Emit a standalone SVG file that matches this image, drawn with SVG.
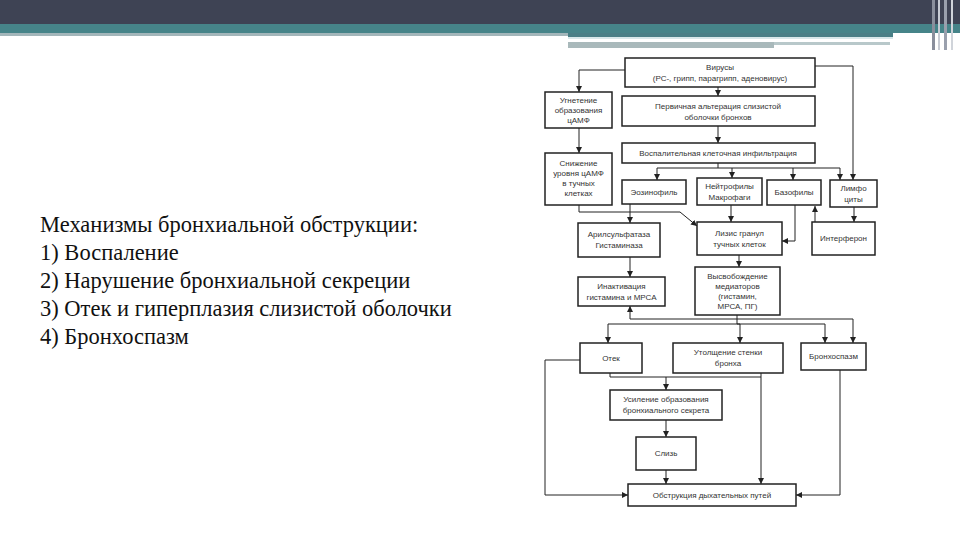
<svg xmlns="http://www.w3.org/2000/svg" width="960" height="540" viewBox="0 0 960 540">
<defs>
<marker id="ah" viewBox="0 0 10 10" refX="10" refY="5" markerWidth="6" markerHeight="6" orient="auto" markerUnits="userSpaceOnUse">
<path d="M0,0 L10,5 L0,10 z" fill="#222"/>
</marker>
<style>
.bx{fill:#fff;stroke:#222;stroke-width:1.5}
.t{font-family:"Liberation Sans",Arial,sans-serif;font-size:8px;fill:#333;text-anchor:middle}
.c{fill:none;stroke:#222;stroke-width:1}
.a{marker-end:url(#ah)}
</style>
</defs>
<rect width="960" height="540" fill="#fff"/>
<g id="header">
<rect x="0" y="0" width="960" height="24" fill="#3e4354"/>
<rect x="0" y="24" width="960" height="9" fill="#468489"/>
<rect x="0" y="33" width="568" height="3" fill="#a3b6ba"/>
<rect x="568" y="33" width="325" height="4" fill="#4a7f86"/>
<rect x="568" y="37" width="325" height="2" fill="#d8e8ea"/>
<rect x="568" y="42" width="206" height="6" fill="#a9b9bb"/>
<rect x="774" y="42" width="116" height="3" fill="#b8c8ca"/>
<rect x="932" y="0" width="3" height="50" fill="#8a8f9c"/>
<rect x="938" y="0" width="2" height="50" fill="#c8ccd4"/>
<rect x="944" y="0" width="3" height="50" fill="#9aa0ad"/>
<rect x="951" y="0" width="2" height="50" fill="#d0d4da"/>
</g>
<g id="caption" font-family="'Liberation Serif', 'Times New Roman', serif" font-size="22.5" fill="#111">
<text x="40" y="232">Механизмы бронхиальной обструкции:</text>
<text x="40" y="260">1) Воспаление</text>
<text x="40" y="288">2) Нарушение бронхиальной секреции</text>
<text x="40" y="316">3) Отек и гиперплазия слизистой оболочки</text>
<text x="40" y="344">4) Бронхоспазм</text>
</g>
<g id="connectors">
<path class="c a" d="M625,70 H579 V92"/>
<path class="c a" d="M718,87 V96"/>
<path class="c a" d="M815,66 H853 V180"/>
<path class="c a" d="M718,126 V143"/>
<path class="c a" d="M579,128 V153"/>
<path class="c" d="M718,163 V168 M657,168 H840"/>
<path class="c a" d="M657,168 V180"/>
<path class="c a" d="M732,168 V178"/>
<path class="c a" d="M793,168 V180"/>
<path class="c a" d="M840,168 V180"/>
<path class="c a" d="M579,205 V212 H680 L697,226"/>
<path class="c a" d="M630,204 V223"/>
<path class="c a" d="M731,205 V222"/>
<path class="c a" d="M795,205 V241 H782"/>
<path class="c a" d="M815,222 V206"/>
<path class="c a" d="M854,207 V222"/>
<path class="c a" d="M630,257 V277"/>
<path class="c a" d="M739,255 V267"/>
<path class="c" d="M737,315 V324"/>
<path class="c a" d="M737,319 H630 V306"/>
<path class="c a" d="M737,319 H853 V343"/>
<path class="c a" d="M740,324 H608 V343"/>
<path class="c a" d="M737,324 H825 V343"/>
<path class="c a" d="M740,324 V343"/>
<path class="c a" d="M580,360 H545 V495 H628"/>
<path class="c" d="M610,373 V377 H761"/>
<path class="c a" d="M666,377 V390"/>
<path class="c a" d="M761,373 V484"/>
<path class="c a" d="M666,420 V437"/>
<path class="c a" d="M666,470 V484"/>
<path class="c a" d="M840,370 V495 H796"/>
</g>
<g id="viruses"><rect class="bx" x="625" y="58" width="190" height="29"/><text class="t" x="720" y="70">Вирусы</text><text class="t" x="720" y="81">(РС-, грипп, парагрипп, аденовирус)</text></g>
<g id="ugnetenie"><rect class="bx" x="545" y="92" width="67" height="36"/><text class="t" x="578.5" y="103">Угнетение</text><text class="t" x="578.5" y="113">образования</text><text class="t" x="578.5" y="123">цАМФ</text></g>
<g id="alteration"><rect class="bx" x="622" y="96" width="193" height="30"/><text class="t" x="718" y="109">Первичная альтерация слизистой</text><text class="t" x="718" y="120">оболочки бронхов</text></g>
<g id="infiltration"><rect class="bx" x="622" y="143" width="193" height="20"/><text class="t" x="718" y="156">Воспалительная клеточная инфильтрация</text></g>
<g id="snizhenie"><rect class="bx" x="545" y="153" width="67" height="52"/><text class="t" x="578.5" y="166">Снижение</text><text class="t" x="578.5" y="176">уровня цАМФ</text><text class="t" x="578.5" y="186">в тучных</text><text class="t" x="578.5" y="196">клетках</text></g>
<g id="eosinophils"><rect class="bx" x="622" y="180" width="64" height="24"/><text class="t" x="654" y="195">Эозинофиль</text></g>
<g id="neutrophils"><rect class="bx" x="697" y="178" width="65" height="27"/><text class="t" x="729.5" y="189">Нейтрофилы</text><text class="t" x="729.5" y="200">Макрофаги</text></g>
<g id="basophils"><rect class="bx" x="767" y="180" width="54" height="25"/><text class="t" x="794" y="195">Базофилы</text></g>
<g id="lymphocytes"><rect class="bx" x="830" y="180" width="47" height="27"/><text class="t" x="853.5" y="191">Лимфо</text><text class="t" x="853.5" y="202">циты</text></g>
<g id="arylsulfatase"><rect class="bx" x="578" y="223" width="82" height="34"/><text class="t" x="619" y="237">Арилсульфатаза</text><text class="t" x="619" y="248">Гистаминаза</text></g>
<g id="lysis"><rect class="bx" x="697" y="222" width="85" height="33"/><text class="t" x="739.5" y="236">Лизис гранул</text><text class="t" x="739.5" y="247">тучных клеток</text></g>
<g id="interferon"><rect class="bx" x="812" y="222" width="63" height="33"/><text class="t" x="843.5" y="241">Интерферон</text></g>
<g id="inactivation"><rect class="bx" x="578" y="277" width="87" height="29"/><text class="t" x="621.5" y="289">Инактивация</text><text class="t" x="621.5" y="300">гистамина и МРСА</text></g>
<g id="release"><rect class="bx" x="695" y="267" width="85" height="48"/><text class="t" x="737.5" y="279">Высвобождение</text><text class="t" x="737.5" y="289">медиаторов</text><text class="t" x="737.5" y="299">(гистамин,</text><text class="t" x="737.5" y="309">МРСА, ПГ)</text></g>
<g id="edema"><rect class="bx" x="580" y="343" width="62" height="30"/><text class="t" x="611" y="361">Отек</text></g>
<g id="thickening"><rect class="bx" x="673" y="343" width="110" height="30"/><text class="t" x="728" y="355">Утолщение стенки</text><text class="t" x="728" y="366">бронха</text></g>
<g id="bronchospasm"><rect class="bx" x="801" y="343" width="65" height="27"/><text class="t" x="833.5" y="359">Бронхоспазм</text></g>
<g id="secretion"><rect class="bx" x="610" y="390" width="112" height="30"/><text class="t" x="666" y="402">Усиление образования</text><text class="t" x="666" y="413">бронхиального секрета</text></g>
<g id="mucus"><rect class="bx" x="636" y="437" width="60" height="33"/><text class="t" x="666" y="456">Слизь</text></g>
<g id="obstruction"><rect class="bx" x="628" y="484" width="168" height="22"/><text class="t" x="712" y="498">Обструкция дыхательных путей</text></g>
</svg>
